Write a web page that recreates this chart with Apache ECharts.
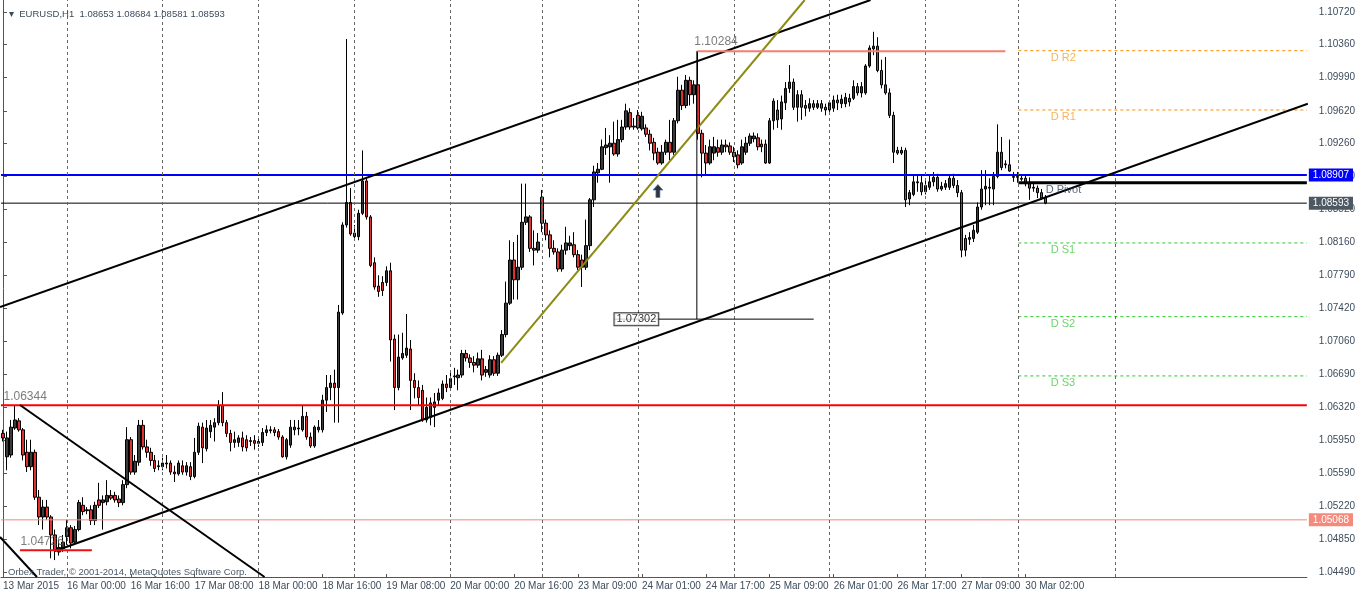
<!DOCTYPE html>
<html><head><meta charset="utf-8">
<script src="https://cdn.jsdelivr.net/npm/echarts@6/dist/echarts.min.js"></script>
<style>html,body{margin:0;padding:0;background:#fff}#c{width:1358px;height:594px}</style>
</head><body><div id="c"></div>
<script>
// ---- trading sessions (day label, first hour, last hour) -> hourly categories
const sessions = [['13 Mar',8,23],['16 Mar',0,23],['17 Mar',0,23],['18 Mar',0,23],['19 Mar',0,23],['20 Mar',0,23],
  ['23 Mar',1,23],['24 Mar',0,23],['25 Mar',0,23],['26 Mar',0,23],['27 Mar',0,23],['30 Mar',1,7]];
const firstLabel = '13 Mar 2015';
const totalSlots = 327;

// ---- hourly candles [open, close, low, high]
const ohlc = [
[1.0603,1.0598,1.0594,1.0607],[1.0577,1.0598,1.0562,1.0605],[1.0579,1.0610,1.0576,1.0618],[1.0609,1.0618,1.0607,1.0634],
[1.0617,1.0607,1.0605,1.0620],[1.0607,1.0579,1.0573,1.0609],[1.0582,1.0566,1.0560,1.0596],[1.0566,1.0582,1.0562,1.0596],
[1.0582,1.0532,1.0529,1.0585],[1.0532,1.0510,1.0501,1.0540],[1.0510,1.0521,1.0496,1.0529],[1.0521,1.0510,1.0507,1.0529],
[1.0510,1.0490,1.0464,1.0512],[1.0490,1.0473,1.0462,1.0496],[1.0471,1.0476,1.0467,1.0484],[1.0475,1.0482,1.0471,1.0490],
[1.0488,1.0498,1.0479,1.0507],[1.0498,1.0481,1.0475,1.0501],[1.0482,1.0496,1.0479,1.0500],[1.0496,1.0526,1.0494,1.0529],
[1.0523,1.0516,1.0512,1.0532],[1.0517,1.0518,1.0513,1.0521],[1.0518,1.0506,1.0501,1.0523],[1.0506,1.0523,1.0501,1.0527],
[1.0529,1.0523,1.0520,1.0548],[1.0526,1.0529,1.0496,1.0534],[1.0527,1.0534,1.0523,1.0551],[1.0534,1.0531,1.0529,1.0540],
[1.0534,1.0529,1.0526,1.0538],[1.0530,1.0526,1.0521,1.0534],[1.0526,1.0546,1.0523,1.0551],[1.0546,1.0596,1.0542,1.0610],
[1.0596,1.0560,1.0557,1.0599],[1.0560,1.0572,1.0557,1.0579],[1.0571,1.0612,1.0567,1.0618],[1.0612,1.0588,1.0585,1.0618],
[1.0588,1.0582,1.0576,1.0596],[1.0582,1.0573,1.0567,1.0587],[1.0573,1.0564,1.0560,1.0579],[1.0567,1.0566,1.0562,1.0573],
[1.0566,1.0570,1.0562,1.0576],[1.0569,1.0570,1.0564,1.0579],[1.0570,1.0560,1.0557,1.0573],[1.0560,1.0558,1.0549,1.0567],
[1.0558,1.0570,1.0556,1.0573],[1.0567,1.0560,1.0557,1.0573],[1.0560,1.0567,1.0556,1.0571],[1.0566,1.0555,1.0551,1.0571],
[1.0555,1.0582,1.0553,1.0598],[1.0582,1.0611,1.0579,1.0615],[1.0610,1.0587,1.0570,1.0615],[1.0586,1.0609,1.0583,1.0618],
[1.0605,1.0612,1.0598,1.0618],[1.0610,1.0615,1.0594,1.0620],[1.0615,1.0634,1.0612,1.0640],[1.0634,1.0615,1.0611,1.0649],
[1.0615,1.0603,1.0599,1.0618],[1.0603,1.0593,1.0583,1.0607],[1.0593,1.0596,1.0587,1.0605],[1.0593,1.0598,1.0588,1.0601],
[1.0598,1.0588,1.0583,1.0605],[1.0596,1.0587,1.0583,1.0601],[1.0595,1.0594,1.0589,1.0599],[1.0595,1.0592,1.0585,1.0601],
[1.0592,1.0594,1.0588,1.0598],[1.0593,1.0604,1.0589,1.0609],[1.0604,1.0607,1.0600,1.0612],[1.0606,1.0607,1.0603,1.0611],
[1.0607,1.0604,1.0600,1.0610],[1.0605,1.0599,1.0596,1.0608],[1.0599,1.0577,1.0576,1.0601],[1.0577,1.0596,1.0574,1.0598],
[1.0590,1.0610,1.0587,1.0618],[1.0607,1.0610,1.0601,1.0618],[1.0608,1.0609,1.0601,1.0618],[1.0607,1.0622,1.0605,1.0634],
[1.0622,1.0599,1.0596,1.0627],[1.0599,1.0589,1.0587,1.0604],[1.0589,1.0610,1.0587,1.0612],[1.0607,1.0610,1.0604,1.0618],
[1.0607,1.0640,1.0604,1.0646],[1.0640,1.0654,1.0627,1.0668],[1.0654,1.0659,1.0640,1.0668],[1.0659,1.0654,1.0615,1.0674],
[1.0654,1.0738,1.0615,1.0746],[1.0737,1.0835,1.0735,1.0838],[1.0835,1.0860,1.0832,1.1042],[1.0860,1.0825,1.0823,1.0876],
[1.0826,1.0822,1.0818,1.0835],[1.0822,1.0848,1.0818,1.0852],[1.0848,1.0884,1.0846,1.0918],[1.0884,1.0844,1.0841,1.0887],
[1.0844,1.0790,1.0788,1.0846],[1.0793,1.0766,1.0763,1.0799],[1.0767,1.0761,1.0755,1.0779],[1.0771,1.0762,1.0756,1.0778],
[1.0771,1.0784,1.0767,1.0789],[1.0784,1.0707,1.0683,1.0793],[1.0708,1.0654,1.0629,1.0713],[1.0654,1.0688,1.0651,1.0713],
[1.0687,1.0692,1.0685,1.0715],[1.0690,1.0698,1.0687,1.0736],[1.0697,1.0662,1.0629,1.0707],[1.0662,1.0654,1.0642,1.0670],
[1.0654,1.0643,1.0634,1.0662],[1.0651,1.0618,1.0616,1.0657],[1.0618,1.0632,1.0615,1.0643],[1.0621,1.0637,1.0612,1.0643],
[1.0632,1.0638,1.0610,1.0648],[1.0640,1.0648,1.0634,1.0653],[1.0642,1.0658,1.0640,1.0662],[1.0658,1.0654,1.0649,1.0668],
[1.0654,1.0664,1.0651,1.0673],[1.0666,1.0667,1.0657,1.0676],[1.0665,1.0668,1.0651,1.0674],[1.0668,1.0692,1.0665,1.0696],
[1.0692,1.0687,1.0683,1.0696],[1.0687,1.0682,1.0676,1.0691],[1.0682,1.0679,1.0671,1.0689],[1.0679,1.0686,1.0676,1.0693],
[1.0686,1.0668,1.0662,1.0696],[1.0671,1.0674,1.0666,1.0678],[1.0668,1.0685,1.0665,1.0690],[1.0685,1.0670,1.0667,1.0689],
[1.0670,1.0690,1.0667,1.0693],[1.0690,1.0713,1.0688,1.0718],[1.0713,1.0748,1.0710,1.0772],[1.0748,1.0796,1.0746,1.0818],
[1.0796,1.0774,1.0752,1.0816],[1.0774,1.0788,1.0752,1.0824],[1.0788,1.0838,1.0785,1.0881],[1.0838,1.0844,1.0835,1.0881],
[1.0844,1.0809,1.0805,1.0846],[1.0809,1.0807,1.0790,1.0829],[1.0807,1.0816,1.0804,1.0826],[1.0866,1.0837,1.0827,1.0874],
[1.0837,1.0824,1.0818,1.0841],[1.0824,1.0809,1.0799,1.0829],[1.0809,1.0805,1.0802,1.0818],[1.0805,1.0786,1.0783,1.0809],
[1.0786,1.0807,1.0783,1.0813],[1.0807,1.0815,1.0802,1.0833],[1.0812,1.0815,1.0807,1.0823],[1.0813,1.0802,1.0799,1.0827],
[1.0802,1.0788,1.0785,1.0807],[1.0796,1.0788,1.0766,1.0802],[1.0788,1.0812,1.0785,1.0841],[1.0812,1.0863,1.0807,1.0865],
[1.0863,1.0894,1.0855,1.0901],[1.0893,1.0897,1.0882,1.0904],[1.0897,1.0922,1.0896,1.0930],[1.0921,1.0924,1.0913,1.0943],
[1.0922,1.0926,1.0882,1.0935],[1.0926,1.0914,1.0912,1.0950],[1.0914,1.0930,1.0911,1.0952],[1.0930,1.0944,1.0927,1.0952],
[1.0944,1.0962,1.0941,1.0970],[1.0960,1.0944,1.0941,1.0965],[1.0944,1.0945,1.0941,1.0954],[1.0957,1.0943,1.0941,1.0963],
[1.0942,1.0956,1.0940,1.0961],[1.0943,1.0936,1.0933,1.0947],[1.0936,1.0926,1.0918,1.0941],[1.0927,1.0915,1.0907,1.0932],
[1.0916,1.0904,1.0902,1.0921],[1.0904,1.0916,1.0902,1.0924],[1.0916,1.0927,1.0913,1.0930],[1.0927,1.0916,1.0907,1.0952],
[1.0916,1.0951,1.0913,1.0954],[1.0951,1.0985,1.0948,1.1000],[1.0985,1.0968,1.0963,1.0991],[1.0968,1.0996,1.0965,1.1002],
[1.0996,1.0980,1.0968,1.1000],[1.0980,1.0991,1.0970,1.0996],[1.0991,1.0937,1.0930,1.1028],[1.0937,1.0915,1.0888,1.0941],
[1.0915,1.0904,1.0890,1.0924],[1.0904,1.0922,1.0902,1.0930],[1.0915,1.0922,1.0907,1.0933],[1.0921,1.0916,1.0911,1.0930],
[1.0916,1.0924,1.0913,1.0930],[1.0924,1.0922,1.0916,1.0930],[1.0923,1.0916,1.0913,1.0927],[1.0916,1.0911,1.0905,1.0922],
[1.0913,1.0902,1.0898,1.0918],[1.0904,1.0922,1.0902,1.0930],[1.0916,1.0926,1.0913,1.0933],[1.0926,1.0934,1.0923,1.0937],
[1.0931,1.0934,1.0927,1.0938],[1.0932,1.0922,1.0918,1.0937],[1.0925,1.0922,1.0916,1.0930],[1.0925,1.0904,1.0903,1.0930],
[1.0904,1.0951,1.0903,1.0954],[1.0951,1.0973,1.0941,1.0976],[1.0963,1.0952,1.0943,1.0974],[1.0953,1.0972,1.0941,1.0979],
[1.0971,1.0987,1.0963,1.0994],[1.0987,1.0994,1.0982,1.1013],[1.0994,1.0966,1.0963,1.0998],[1.0966,1.0980,1.0950,1.0985],
[1.0980,1.0966,1.0952,1.0985],[1.0968,1.0965,1.0956,1.0974],[1.0965,1.0970,1.0961,1.0976],[1.0970,1.0966,1.0963,1.0974],
[1.0966,1.0970,1.0964,1.0974],[1.0970,1.0965,1.0961,1.0974],[1.0966,1.0963,1.0957,1.0970],[1.0963,1.0971,1.0958,1.0974],
[1.0965,1.0974,1.0961,1.0979],[1.0974,1.0971,1.0963,1.0980],[1.0970,1.0975,1.0965,1.0980],[1.0970,1.0977,1.0966,1.0982],
[1.0976,1.0972,1.0967,1.0981],[1.0976,1.0989,1.0974,1.0996],[1.0989,1.0982,1.0979,1.0993],[1.0982,1.0989,1.0977,1.0994],
[1.0982,1.1012,1.0980,1.1014],[1.1012,1.1032,1.1010,1.1035],[1.1031,1.1034,1.1024,1.1050],[1.1034,1.1007,1.1005,1.1044],
[1.1007,1.0991,1.0987,1.1019],[1.0991,1.0982,1.0980,1.1022],[1.0982,1.0957,1.0954,1.0987],[1.0957,1.0916,1.0904,1.0961],
[1.0918,1.0915,1.0913,1.0922],[1.0915,1.0918,1.0913,1.0922],[1.0918,1.0863,1.0855,1.0921],[1.0864,1.0871,1.0857,1.0874],
[1.0869,1.0883,1.0867,1.0891],[1.0882,1.0883,1.0872,1.0891],[1.0882,1.0872,1.0868,1.0890],[1.0872,1.0879,1.0869,1.0885],
[1.0877,1.0883,1.0874,1.0890],[1.0883,1.0888,1.0878,1.0894],[1.0888,1.0875,1.0872,1.0892],[1.0875,1.0878,1.0873,1.0883],
[1.0877,1.0881,1.0874,1.0885],[1.0877,1.0887,1.0874,1.0891],[1.0887,1.0879,1.0876,1.0892],[1.0879,1.0871,1.0866,1.0885],
[1.0871,1.0807,1.0799,1.0874],[1.0820,1.0807,1.0800,1.0824],[1.0819,1.0821,1.0813,1.0827],[1.0820,1.0829,1.0816,1.0835],
[1.0827,1.0855,1.0825,1.0860],[1.0855,1.0875,1.0852,1.0896],[1.0875,1.0878,1.0857,1.0896],[1.0876,1.0877,1.0857,1.0887],
[1.0875,1.0889,1.0857,1.0894],[1.0889,1.0916,1.0887,1.0947],[1.0916,1.0899,1.0896,1.0933],[1.0903,1.0902,1.0898,1.0907],
[1.0902,1.0895,1.0894,1.0930],[1.0889,1.0888,1.0883,1.0894],[1.0888,1.0889,1.0882,1.0894],[1.0886,1.0887,1.0884,1.0891],
[1.0887,1.0881,1.0878,1.0890],[1.0881,1.0876,1.0863,1.0888],[1.0876,1.0877,1.0872,1.0881],[1.0876,1.0871,1.0865,1.0879],
[1.0871,1.0865,1.0863,1.0875],[1.08653,1.08593,1.08581,1.08684]
];

// ---- price axis
const yMin = 1.04432, yMax = 1.10854;
const yTicks = [1.04490,1.04850,1.05220,1.05590,1.05950,1.06320,1.06690,1.07060,1.07420,1.07790,1.08160,1.08520,1.08890,1.09260,1.09620,1.09990,1.10360,1.10720];

// ---- horizontal levels
const blueLevel = 1.08907, bidLevel = 1.08593, askLevel = 1.05068, redLevel = 1.06344;

// ---- drawn objects: [barIndex, price] anchors
const channelUpper = [[-0.75,1.07437],[217.25,1.10854]];
const channelLower = [[13,1.04721],[326.75,1.09699]];
const descLine1 = [[4.25,1.06346],[65.5,1.04432]];
const descLine2 = [[-0.75,1.04877],[8.5,1.04432]];
const oliveLine = [[124.75,1.06814],[200.75,1.10854]];
const lowLine = [[4.25,1.0473],[22.25,1.0473]];
const highLine = [[173.75,1.10284],[251,1.10284]];
const dropLine = [[173.75,1.10284],[173.75,1.07302]];
const targetLine = [[153,1.07302],[203,1.07302]];
const fullSpan = [-0.5, 326.5];
const pivotStart = 254.25, pivotEnd = 326.5;
const pivots = [['D R2',1.1029],['D R1',1.0963],['D Pivot',1.0882],['D S1',1.0815],['D S2',1.0733],['D S3',1.0667]];
const dayLines = [16,40,64,88,112,135,159,183,207,231,254.25,278.5];
const arrowPoint = [164,1.08728];
const priceTexts = [['1.06344',0,1.06435],['1.10284',173,1.10387],['1.04726',4.25,1.04822]];
const pivotTextPos = {'D R2':[262.25,1.10208],'D R1':[262.25,1.09552],'D Pivot':[261,1.08739],'D S1':[262.25,1.08072],'D S2':[262.25,1.07248],'D S3':[262.25,1.06591]};

// ---- build categories
const cats = [];
sessions.forEach(([d,h0,h1]) => { for (let h=h0; h<=h1; h++) cats.push(d+' '+String(h).padStart(2,'0')+':00'); });
cats[0] = firstLabel;
while (cats.length < totalSlots) cats.push('');
const lastBar = ohlc.length - 1;
const showLab = (i) => i % 16 === 0 && i <= lastBar;

const FONT = 'Liberation Sans';
const AXC = '#3d4b5a';

const segSeries = (pts, color, width, type, z) => ({
  type:'line', xAxisIndex:1, yAxisIndex:0, data:pts, symbol:'none', silent:true, animation:false, z:z||5,
  lineStyle:{color:color, width:width, type:type||'solid'}
});
const levelSeries = (price, color, width, boxColor) => {
  const s = segSeries([[fullSpan[0],price],[fullSpan[1],price]], color, width, 'solid', 4);
  if (boxColor) s.endLabel = {show:true, formatter:price.toFixed(5), backgroundColor:boxColor, color:'#fff',
    padding:[2,4,1,4], distance:2, fontSize:10, fontFamily:FONT};
  return s;
};

const series = [];
// day separators
series.push({
  type:'line', xAxisIndex:1, yAxisIndex:0, data:[[0,yMin],[1,yMin]], symbol:'none', silent:true, z:1,
  lineStyle:{opacity:0},
  markLine:{silent:true, symbol:['none','none'], animation:false, label:{show:false},
    lineStyle:{color:'#666', width:1, type:[3,3]}, data: dayLines.map(v=>({xAxis:v}))}
});
// candles
series.push({
  type:'candlestick', xAxisIndex:0, yAxisIndex:0, data:ohlc, barWidth:3, z:3, animation:false,
  itemStyle:{color:'#3a3a3a', color0:'#e03030', borderColor:'#000', borderColor0:'#000', borderWidth:1}
});
// full-width levels
series.push(levelSeries(redLevel,'#ff0000',2,null));
series.push(levelSeries(askLevel,'#f08878',1,'#f58a7c'));
series.push(levelSeries(bidLevel,'#000000',1,'#4c5862'));
series.push(levelSeries(blueLevel,'#0000ff',2,'#0000ff'));
// drawn objects
series.push(segSeries(channelUpper,'#000',2));
series.push(segSeries(channelLower,'#000',2));
series.push(segSeries(descLine1,'#000',2));
series.push(segSeries(descLine2,'#000',2));
series.push(segSeries(oliveLine,'#8c8a12',2));
series.push(segSeries(lowLine,'#ee1111',2));
series.push(segSeries(highLine,'#f27f72',2));
series.push(segSeries(dropLine,'#000',1));
series.push(segSeries(targetLine,'#000',1));
const pivotColor = (n) => n==='D Pivot' ? '#000' : (n.indexOf('R')>=0 ? '#ff8c00' : '#2ec82e');
pivots.forEach(([n,p]) => {
  if (n==='D Pivot') series.push(segSeries([[pivotStart,p],[pivotEnd,p]],'#000',3,'solid',4));
  else series.push(segSeries([[pivotStart,p],[pivotEnd,p]],pivotColor(n),1,[3,3],4));
});
// texts
series.push({
  type:'scatter', xAxisIndex:1, yAxisIndex:0, symbolSize:1, silent:true, z:6, animation:false,
  itemStyle:{color:'rgba(0,0,0,0)'},
  label:{show:true, position:'right', distance:0, fontFamily:FONT},
  data: priceTexts.map(([t,i,p]) => ({value:[i,p], label:{formatter:t, fontSize:12, color:'#5a5a5a'}}))
    .concat(pivots.map(([n]) => ({value:pivotTextPos[n], label:{formatter:n, fontSize:11,
      color: n==='D Pivot' ? '#2c3e60' : (n.indexOf('R')>=0 ? '#f5a030' : '#44cc44')}})))
    .concat([{value:[targetLine[0][0],targetLine[0][1]], label:{formatter:'1.07302', fontSize:11, color:'#000',
      backgroundColor:'#fff', borderColor:'#000', borderWidth:1, padding:[1,2,0,2]}}])
});
// arrow
series.push({
  type:'scatter', xAxisIndex:1, yAxisIndex:0, silent:true, z:6, animation:false,
  symbol:'path://M5,0 L10,6 L7,6 L7,14 L3,14 L3,6 L0,6 Z', symbolSize:[10,13],
  itemStyle:{color:'#000', borderColor:'#4a78c8', borderWidth:0.8},
  data:[arrowPoint]
});

const option = {
  animation:false,
  backgroundColor:'#fff',
  grid:{left:1, right:49, top:0, bottom:17},
  title:[
    {text:'▾  EURUSD,H1  1.08653 1.08684 1.08581 1.08593', left:4, top:4,
      textStyle:{fontSize:9.5, fontWeight:'normal', color:AXC, fontFamily:FONT}},
    {text:'Orbex Trader, © 2001-2014, MetaQuotes Software Corp.', left:3, top:562,
      textStyle:{fontSize:9.5, fontWeight:'normal', color:'#4a5866', fontFamily:FONT}}
  ],
  xAxis:[
    {type:'category', data:cats, boundaryGap:true, gridIndex:0,
      axisLine:{show:true, lineStyle:{color:'#555', width:1}},
      axisTick:{show:true, inside:true, length:3, alignWithLabel:true, interval:(i)=>showLab(i), lineStyle:{color:'#555'}},
      axisLabel:{interval:(i)=>showLab(i), align:'left', margin:4, fontSize:10, fontFamily:FONT, color:AXC, hideOverlap:false},
      splitLine:{show:false}},
    {type:'value', min:-0.5, max:totalSlots-0.5, show:false, gridIndex:0, position:'top'}
  ],
  yAxis:{type:'value', position:'right', min:yMin, max:yMax, scale:true,
    axisLine:{show:true, lineStyle:{color:'#555', width:1}},
    axisTick:{show:true, length:4, customValues:yTicks, lineStyle:{color:'#555'}},
    axisLabel:{customValues:yTicks, formatter:(v)=>v.toFixed(5), fontSize:10, margin:12, fontFamily:FONT, color:AXC},
    splitLine:{show:false}},
  series:series
};
const chart = echarts.init(document.getElementById('c'), null, {renderer:'canvas'});
chart.setOption(option);
</script></body></html>
